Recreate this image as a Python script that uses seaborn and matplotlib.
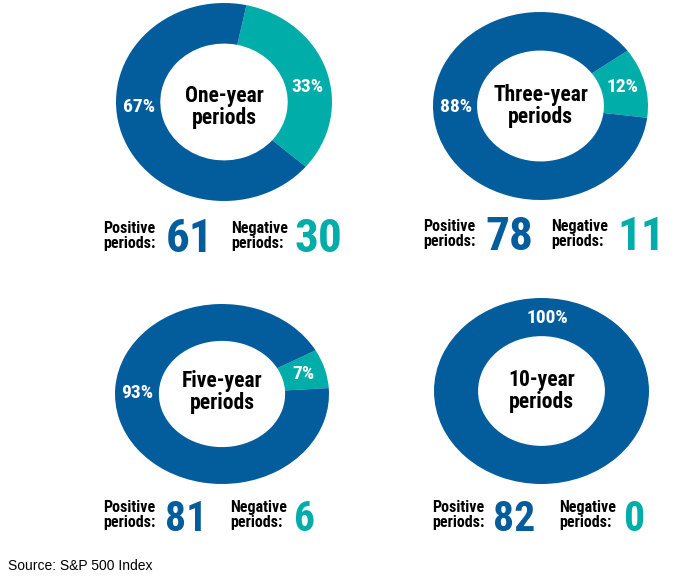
import matplotlib
matplotlib.use("Agg")
import numpy as np
import matplotlib.pyplot as plt
import seaborn as sns

# values
titles = ["One-year\nperiods", "Three-year\nperiods", "Five-year\nperiods", "10-year\nperiods"]
positive_pct = [67, 88, 93, 100]
negative_pct = [33, 12, 7, 0]
positive_counts = [61, 78, 81, 82]
negative_counts = [30, 11, 6, 0]

BLUE = "#035C9C"
TEAL = "#00ADA8"

sns.set_theme(style="white")
plt.rcParams["font.family"] = ["Roboto Condensed", "DejaVu Sans Condensed", "DejaVu Sans"]

W, H = 696, 576
fig = plt.figure(figsize=(W / 100, H / 100), dpi=100)


def px(x, y):
    return x / W, 1 - y / H


# donut boxes in pixels: left, top, right, bottom
boxes = [(116, 3, 332, 201), (433, 12, 648, 200), (115, 304, 329, 484), (434, 298, 649, 484)]
start_angles = [78, 36, 29, 90]
pos_label_ang = [184, 181, 179, 86]
neg_label_ang = [11, 15, 16, None]
title_y = [-0.05, 0.0, 0.02, 0.0]

# bottom row text: x of "Positive", big number, "Negative", big number; baseline y
rows = [(103, 166, 231, 294, 252), (423, 485, 551, 617, 250),
        (103, 165, 230, 294, 531), (432, 493, 559, 624, 531)]
num_size = [34, 34, 30, 30]

for i in range(4):
    l, t, r, b = boxes[i]
    x0, y0 = px(l, b)
    ax = fig.add_axes([x0, y0, (r - l) / W, (b - t) / H])
    ax.pie([negative_pct[i], positive_pct[i]], colors=[TEAL, BLUE],
           startangle=start_angles[i], counterclock=False, radius=1,
           wedgeprops=dict(width=0.41, edgecolor="none", linewidth=0))
    ax.set_aspect("auto")
    ax.set_xlim(-1, 1)
    ax.set_ylim(-1, 1)
    ax.axis("off")

    ax.text(0, title_y[i], titles[i], ha="center", va="center", fontsize=15.5,
            fontweight="bold", color="black", linespacing=1.0)

    rr = 0.79
    a = np.deg2rad(pos_label_ang[i])
    ax.text(rr * np.cos(a), rr * np.sin(a), f"{positive_pct[i]}%", ha="center", va="center",
            fontsize=14, fontweight="bold", color="white")
    if neg_label_ang[i] is not None:
        a = np.deg2rad(neg_label_ang[i])
        ax.text(rr * np.cos(a), rr * np.sin(a), f"{negative_pct[i]}%", ha="center", va="center",
                fontsize=14, fontweight="bold", color="white")

    xp, xn1, xg, xn2, base = rows[i]
    fig.text(*px(xp, base - 16), "Positive\nperiods:", ha="left", va="center",
             fontsize=11.5, fontweight="bold", color="black", linespacing=1.05)
    fig.text(*px(xn1, base), str(positive_counts[i]), ha="left", va="baseline",
             fontsize=num_size[i], fontweight="bold", color=BLUE)
    fig.text(*px(xg, base - 16), "Negative\nperiods:", ha="left", va="center",
             fontsize=11.5, fontweight="bold", color="black", linespacing=1.05)
    fig.text(*px(xn2, base), str(negative_counts[i]), ha="left", va="baseline",
             fontsize=num_size[i], fontweight="bold", color=TEAL)

fig.text(*px(8, 566), "Source: S&P 500 Index", ha="left", va="center",
         fontsize=10, family=["Liberation Sans", "DejaVu Sans"], color="black")

fig.savefig("out.png", dpi=100, facecolor="white")
